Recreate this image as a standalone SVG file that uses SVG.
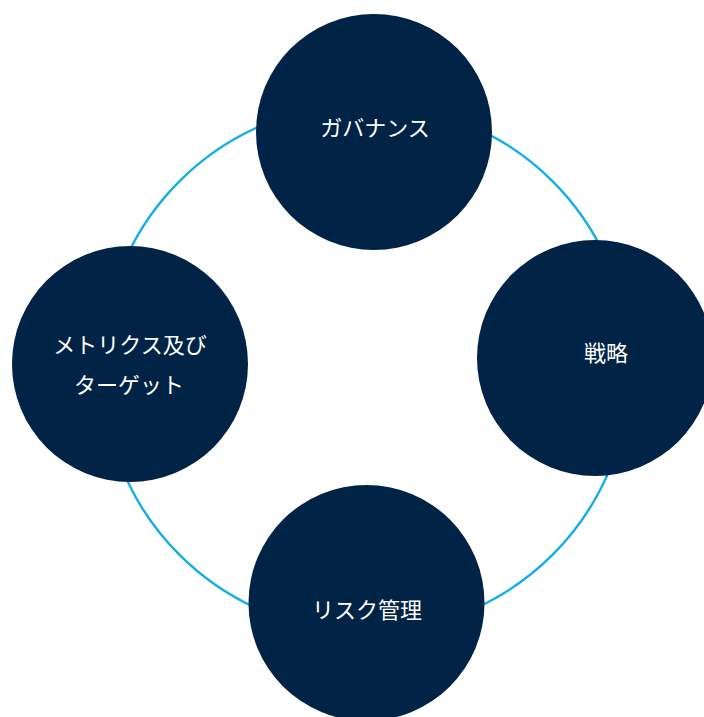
<svg xmlns="http://www.w3.org/2000/svg" width="704" height="717" viewBox="0 0 704 717">
<style>
.node{fill:#012345}
.lbl{fill:#ffffff;font-family:"Noto Sans CJK JP","Noto Sans",sans-serif;font-size:22px;text-anchor:middle}
.ring{fill:none;stroke:#13aee6;stroke-width:2.4}
</style>
<rect width="704" height="717" fill="#ffffff"/>
<g id="connectors">
<circle class="ring" cx="366" cy="368" r="264"/>
</g>
<g id="governance">
<circle class="node" cx="374" cy="132" r="118"/>
<text class="lbl" x="375" y="136">ガバナンス</text>
</g>
<g id="strategy">
<circle class="node" cx="595" cy="358" r="118"/>
<text class="lbl" x="606" y="361">戦略</text>
</g>
<g id="risk">
<circle class="node" cx="366.5" cy="603" r="118"/>
<text class="lbl" x="367" y="618">リスク管理</text>
</g>
<g id="metrics">
<circle class="node" cx="130" cy="364" r="118"/>
<text class="lbl" x="130" y="353">メトリクス及び</text>
<text class="lbl" x="129" y="393">ターゲット</text>
</g>
</svg>
